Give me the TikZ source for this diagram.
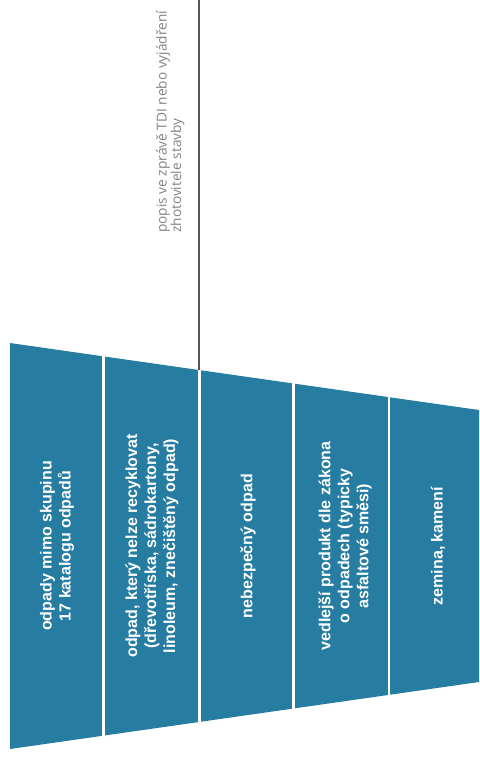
\documentclass[tikz,border=0pt]{standalone}
\usepackage{fontspec}
\setmainfont{Liberation Sans}
\newfontfamily\grayfont{Open Sans}
\definecolor{funnelblue}{RGB}{38,124,161}
\definecolor{notegray}{RGB}{130,130,130}
\definecolor{linegray}{RGB}{85,85,85}
\tikzset{
  coltext/.style={rotate=90, align=center, text=white, inner sep=0pt,
    font=\fontsize{16}{19}\selectfont\bfseries},
  notetext/.style={rotate=90, align=left, text=notegray, inner sep=0pt,
    anchor=north west, font=\grayfont\fontsize{13.7}{14.5}\selectfont},
  divider/.style={white, line width=2.6pt},
  leader/.style={linegray, line width=1.3pt}
}
\begin{document}
\begin{tikzpicture}[x=1pt,y=-1pt]
\useasboundingbox (0,0) rectangle (479,765);
% funnel
\fill[funnelblue] (10,343) -- (479,410) -- (479,682) -- (10,749) -- cycle;
% dividers
\foreach \x in {103.5,199.5,293.5,389} {
  \draw[divider] (\x,{343+0.142857*(\x-10)-3}) -- (\x,{749-0.142857*(\x-10)+3});
}
% leader line
\coordinate (ltop) at (199,0);
\coordinate (lbot) at (199,370);
\draw[leader] (ltop) -- (lbot);
% column texts
\node[coltext] (c1) at (57,546) {odpady mimo skupinu\\17 katalogu odpadů};
\node[coltext] (c2) at (152,546) {odpad, který nelze recyklovat\\(dřevotříska, sádrokartony,\\linoleum, znečištěný odpad)};
\node[coltext] (c3) at (248,546) {nebezpečný odpad};
\node[coltext] (c4) at (345,546) {vedlejší produkt dle zákona\\o odpadech (typicky\\asfaltové směsi)};
\node[coltext] (c5) at (438,546) {zemina, kamení};
% note
\node[notetext] (note) at (156,233) {popis ve zprávě TDI nebo vyjádření\\zhotovitele stavby};
\end{tikzpicture}
\end{document}
